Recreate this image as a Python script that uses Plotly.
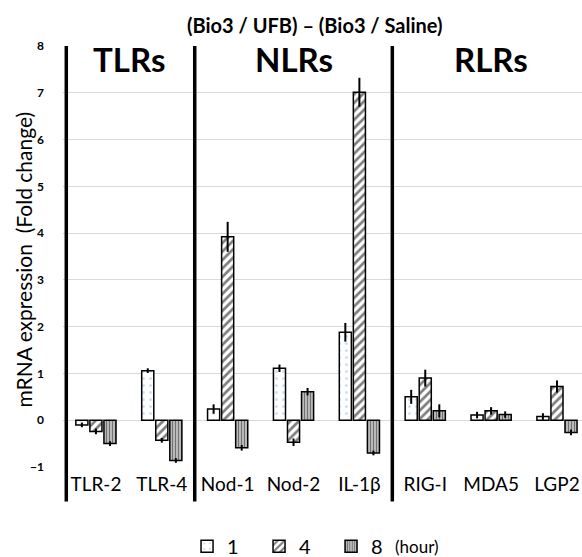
import plotly.graph_objects as go

categories = ["TLR-2", "TLR-4", "Nod-1", "Nod-2", "IL-1β", "RIG-I", "MDA5", "LGP2"]
hours = ["1", "4", "8"]
vals_1h = [-0.10, 1.06, 0.24, 1.11, 1.88, 0.50, 0.11, 0.08]
err_1h = [0.05, 0.05, 0.10, 0.08, 0.20, 0.15, 0.07, 0.07]
vals_4h = [-0.24, -0.43, 3.92, -0.47, 7.01, 0.90, 0.20, 0.72]
err_4h = [0.06, 0.05, 0.32, 0.08, 0.31, 0.18, 0.08, 0.13]
vals_8h = [-0.50, -0.86, -0.59, 0.61, -0.70, 0.20, 0.12, -0.26]
err_8h = [0.05, 0.05, 0.06, 0.08, 0.05, 0.14, 0.07, 0.06]
group_labels = ["TLRs", "NLRs", "RLRs"]
group_centers = [0.5, 3.0, 6.0]
dividers = [-0.45, 1.5, 4.5]

patterns = [
    dict(shape=".", fgcolor="#9dc3e6", bgcolor="white", size=7, solidity=0.15),
    dict(shape="/", fgcolor="black", bgcolor="white", size=6, solidity=0.45),
    dict(shape="|", fgcolor="#111111", bgcolor="#d0d0d0", size=3, solidity=0.5),
]

fig = go.Figure()
for name, v, e, p in zip(hours, [vals_1h, vals_4h, vals_8h], [err_1h, err_4h, err_8h], patterns):
    fig.add_trace(go.Bar(
        x=categories, y=v, name=name,
        marker=dict(color="white", pattern=p, line=dict(color="black", width=1.5)),
        error_y=dict(type="data", array=e, visible=True, color="black", thickness=2, width=0),
    ))

for d in dividers:
    fig.add_shape(type="line", xref="x", yref="paper", x0=d, x1=d, y0=-0.082, y1=1.0,
                  line=dict(color="black", width=3.5))

for lab, c in zip(group_labels, group_centers):
    fig.add_annotation(x=c, y=7.73, xref="x", yref="y", text="<b>" + lab + "</b>",
                       showarrow=False, yanchor="middle",
                       font=dict(size=33, color="black", family="Lato"))

fig.add_annotation(x=0.636, y=-0.19, xref="paper", yref="paper", text="(hour)",
                   showarrow=False, xanchor="left", yanchor="middle",
                   font=dict(size=17, color="black", family="Lato"))
fig.add_annotation(x=0.485, y=1.0, xref="paper", yref="paper", yshift=35,
                   text="<b>(Bio3 / UFB) – (Bio3 / Saline)</b>", showarrow=False,
                   font=dict(size=20, color="black", family="Lato"))
fig.add_annotation(x=0, y=0.5, xref="paper", yref="paper", xshift=-40, yshift=-3,
                   text="mRNA expression  (Fold change)", textangle=-90, showarrow=False,
                   xanchor="center", yanchor="middle",
                   font=dict(size=21, color="black", family="Lato"))

fig.update_layout(
    width=582, height=557,
    margin=dict(l=63, r=0, t=46, b=89.5, autoexpand=False),
    paper_bgcolor="white", plot_bgcolor="white",
    barmode="group", bargap=0.36, bargroupgap=0.14,
    font=dict(family="Lato", color="black"),
    showlegend=True,
    legend=dict(orientation="h", x=0.239, y=-0.188, xanchor="left", yanchor="middle",
                font=dict(size=20, color="black"), itemwidth=30, entrywidth=27,
                entrywidthmode="pixels", bgcolor="rgba(0,0,0,0)"),
    xaxis=dict(range=[-0.5, 7.38], showgrid=False, showline=False, ticks="",
               automargin=False, ticklabelstandoff=4,
               tickfont=dict(size=19, color="black", family="Lato")),
    yaxis=dict(range=[-1, 8], dtick=1, showgrid=True, gridcolor="#d9d9d9", gridwidth=1,
               zeroline=False, showline=False, ticks="", automargin=False,
               tickfont=dict(size=12, color="black", family="Lato", weight="bold"),
               ticklabelstandoff=18),
)

fig.write_html("out.html", config={"displayModeBar": False},
               post_script="document.body.style.margin='0';document.body.style.overflow='hidden';")
